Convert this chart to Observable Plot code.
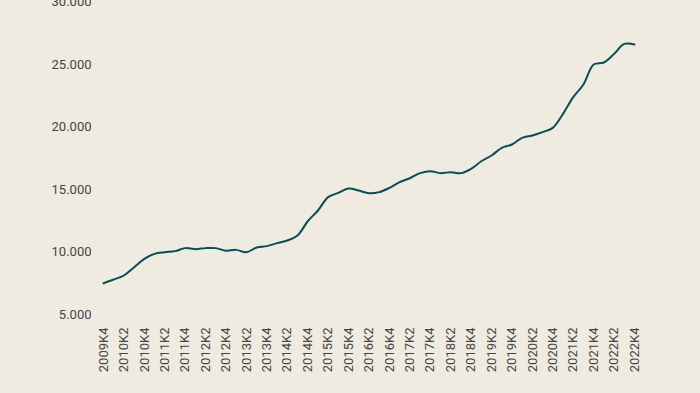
<!DOCTYPE html>
<html>
<head>
<meta charset="utf-8">
<script src="https://cdn.jsdelivr.net/npm/d3@7"></script>
<script src="https://cdn.jsdelivr.net/npm/@observablehq/plot@0.6"></script>
<style>
  html, body { margin: 0; padding: 0; background: #efebe1; }
  #chart { width: 700px; height: 393px; overflow: hidden; }
  #chart svg text { font-family: Roboto, sans-serif; font-size: 13px; }
</style>
</head>
<body>
<div id="chart"></div>
<script>
const quarters = [
  "2009K4",
  "2010K1","2010K2","2010K3","2010K4",
  "2011K1","2011K2","2011K3","2011K4",
  "2012K1","2012K2","2012K3","2012K4",
  "2013K1","2013K2","2013K3","2013K4",
  "2014K1","2014K2","2014K3","2014K4",
  "2015K1","2015K2","2015K3","2015K4",
  "2016K1","2016K2","2016K3","2016K4",
  "2017K1","2017K2","2017K3","2017K4",
  "2018K1","2018K2","2018K3","2018K4",
  "2019K1","2019K2","2019K3","2019K4",
  "2020K1","2020K2","2020K3","2020K4",
  "2021K1","2021K2","2021K3","2021K4",
  "2022K1","2022K2","2022K3","2022K4"
];
const values = [
  7500,
  7800, 8120, 8780, 9450,
  9850, 9980, 10070, 10310,
  10230, 10310, 10310, 10100,
  10170, 9980, 10360, 10470,
  10710, 10920, 11320, 12460,
  13320, 14390, 14730, 15080,
  14920, 14700, 14790, 15130,
  15590, 15900, 16310, 16470,
  16310, 16390, 16310, 16650,
  17260, 17720, 18330, 18600,
  19130, 19320, 19590, 19930,
  21050, 22390, 23400, 25000,
  25160, 25850, 26650, 26600
];
const xTickLabels = quarters.filter((q, i) => i % 2 === 0);
const yTicks = [5000, 10000, 15000, 20000, 25000, 30000];

const data = quarters.map((q, i) => ({i, q, v: values[i]}));
const xTickIdx = xTickLabels.map(l => quarters.indexOf(l));
const fmt = d3.formatLocale({decimal: ",", thousands: ".", grouping: [3], currency: ["", ""]}).format(",");

const chart = Plot.plot({
  width: 700,
  height: 393,
  marginLeft: 103,
  marginRight: 66,
  marginTop: 1.5,
  marginBottom: 79,
  style: {background: "#efebe1", fontFamily: "Roboto, sans-serif", fontSize: "13px", color: "#454545", overflow: "visible"},
  x: {type: "linear", domain: [0, quarters.length - 1]},
  y: {domain: [5000, 30000]},
  marks: [
    Plot.axisY({ticks: yTicks, tickFormat: fmt, tickSize: 0, tickPadding: 12, label: null, fill: "#454545", fontSize: 13}),
    Plot.axisX({ticks: xTickIdx, tickFormat: i => quarters[i], tickSize: 0, tickPadding: 13, tickRotate: -90, label: null, fill: "#454545", fontSize: 13}),
    Plot.line(data, {x: "i", y: "v", stroke: "#0b4d55", strokeWidth: 2, curve: "catmull-rom"})
  ]
});
document.getElementById("chart").appendChild(chart);
</script>
</body>
</html>
